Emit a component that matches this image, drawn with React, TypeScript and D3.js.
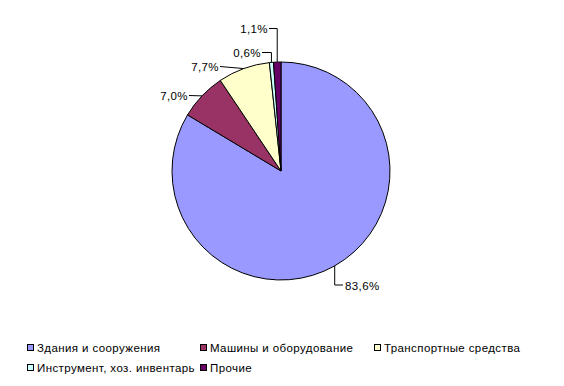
import React from 'react';
import * as d3 from 'd3';

const categories = [
  'Здания и сооружения',
  'Машины и оборудование',
  'Транспортные средства',
  'Инструмент, хоз. инвентарь',
  'Прочие',
];
const values = [83.6, 7.0, 7.7, 0.6, 1.1];
const colors = ['#9999FF', '#993366', '#FFFFCC', '#CCFFFF', '#660066'];

// label text positions (end of text for left side, start for right side)
const labelLayout = [
  { x: 345, y: 290, anchor: 'start', elbow: 'down' },
  { x: 188, y: 100, anchor: 'end', elbow: 'straight' },
  { x: 219, y: 71, anchor: 'end', elbow: 'straight' },
  { x: 261, y: 57, anchor: 'end', elbow: 'over' },
  { x: 268, y: 33, anchor: 'end', elbow: 'over' },
];

const width = 564;
const height = 386;
const cx = 281;
const cy = 171;
const radius = 109;

interface Slice {
  name: string;
  value: number;
  color: string;
}

const App: React.FC = () => {
  const data: Slice[] = categories.map((name, i) => ({ name, value: values[i], color: colors[i] }));

  const pie = d3.pie<Slice>()
    .value(d => d.value)
    .sort(null);

  const arc = d3.arc<d3.PieArcDatum<Slice>>()
    .innerRadius(0)
    .outerRadius(radius);

  const arcs = pie(data);
  const fmt = (v: number) => v.toFixed(1).replace('.', ',') + '%';

  const font = '"Liberation Sans", Arial, sans-serif';
  const fs = 11.5;
  const ls = 0.4;

  // Legend layout
  const legendCols = [27, 200, 374];
  const legendRows = [348, 368];

  return (
    <svg width={width} height={height} style={{ position: 'absolute', left: 0, top: 0, background: '#fff' }}>
      <g transform={`translate(${cx},${cy})`}>
        {arcs.map((a, i) => (
          <path key={i} d={arc(a) || ''} fill={a.data.color} stroke="#000" strokeWidth={1} />
        ))}
      </g>
      {arcs.map((a, i) => {
        const mid = (a.startAngle + a.endAngle) / 2;
        const px = cx + radius * Math.sin(mid);
        const py = cy - radius * Math.cos(mid);
        const lp = labelLayout[i];
        let pts: [number, number][];
        if (lp.elbow === 'down') {
          pts = [[px, py], [px, lp.y - 5], [lp.x - 2, lp.y - 5]];
        } else if (lp.elbow === 'over') {
          pts = [[lp.x + 1, lp.y - 4.5], [px, lp.y - 4.5], [px, py]];
        } else {
          pts = [[lp.x + 1, lp.y - 4.5], [px, py]];
        }
        return (
          <g key={i}>
            <path d={d3.line()(pts) || ''} fill="none" stroke="#000" strokeWidth={1} />
            <text x={lp.x} y={lp.y} textAnchor={lp.anchor as any} fontFamily={font} fontSize={fs} letterSpacing={ls} fill="#000">
              {fmt(a.data.value)}
            </text>
          </g>
        );
      })}
      {data.map((d, i) => {
        const x = legendCols[i % 3];
        const y = legendRows[Math.floor(i / 3)];
        return (
          <g key={i}>
            <rect x={x + 0.5} y={y - 3.5} width={6} height={6} fill={d.color} stroke="#000" strokeWidth={1} />
            <text x={x + 10} y={y + 4} fontFamily={font} fontSize={fs} letterSpacing={ls} fill="#000">{d.name}</text>
          </g>
        );
      })}
    </svg>
  );
};

export default App;
